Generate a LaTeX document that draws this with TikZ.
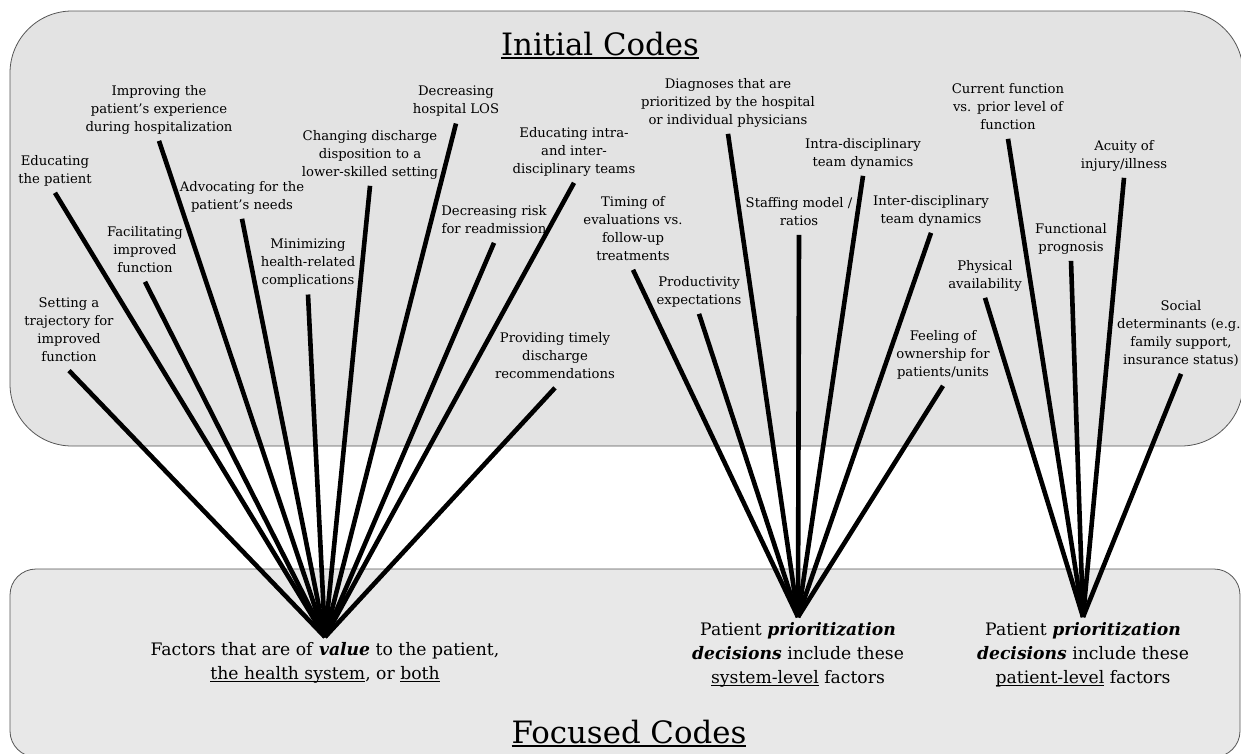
\documentclass[tikz,border=0pt]{standalone}
\usepackage{fontspec}
\setmainfont{DejaVu Serif}
\usetikzlibrary{positioning}

\definecolor{initfill}{HTML}{E3E3E3}
\definecolor{focusfill}{HTML}{E8E8E8}
\definecolor{panelline}{HTML}{555555}

\newcommand{\codefont}{\fontsize{13.2}{18}\selectfont}
\newcommand{\focusfont}{\fontsize{17.2}{24}\selectfont}
\newcommand{\titlefont}{\fontsize{30.8}{40}\selectfont}
\newsavebox{\ulbox}
\newcommand{\codeul}[1]{\sbox\ulbox{#1}\rlap{\rule[-2.5pt]{\wd\ulbox}{1pt}}\usebox\ulbox}
\newcommand{\titleul}[1]{\sbox\ulbox{#1}\rlap{\rule[-4pt]{\wd\ulbox}{2pt}}\usebox\ulbox}

\begin{document}
\begin{tikzpicture}[x=1pt, y=-1pt,
  panel/.style={draw=panelline, line width=0.8pt},
  code/.style={align=center, anchor=north, inner sep=4pt, font=\codefont,
    execute at begin node=\strut, execute at end node=\strut},
  focus/.style={align=center, inner sep=0pt, font=\focusfont,
    execute at begin node=\strut, execute at end node=\strut},
  spoke/.style={line width=4.6pt, black}
]
  \useasboundingbox (0,0) rectangle (1241,753);
  \clip (0,0) rectangle (1241,753);

  % Panels
  \draw[panel, fill=initfill, rounded corners=62pt] (10,11) rectangle (1243,446);
  \draw[panel, fill=focusfill, rounded corners=26pt] (10,569) rectangle (1240,757);

  \node[anchor=base, font=\titlefont] (initial) at (600,55) {\titleul{Initial Codes}};
  \node[anchor=base, font=\titlefont] (focused) at (629,743) {\titleul{Focused Codes}};

  % Meeting points
  \coordinate (apexA) at (325,637);
  \coordinate (apexB) at (798,617);
  \coordinate (apexC) at (1083,617);

  % Value codes
  \node[code] (edpat) at (55,151) {Educating\\the patient};
  \node[code] (improv) at (159,81) {Improving the\\patient’s experience\\during hospitalization};
  \node[code] (advoc) at (242,177) {Advocating for the\\patient’s needs};
  \node[code] (facil) at (145,222) {Facilitating\\improved\\function};
  \node[code] (minim) at (308,235) {Minimizing\\health-related\\complications};
  \node[code] (traject) at (69,293) {Setting a\\trajectory for\\improved\\function};
  \node[code] (dispo) at (370,126) {Changing discharge\\disposition to a\\lower-skilled setting};
  \node[code] (declos) at (456,82) {Decreasing\\hospital LOS};
  \node[code] (eduteam) at (574,123) {Educating intra-\\and inter-\\disciplinary teams};
  \node[code] (decrisk) at (494,201) {Decreasing risk\\for readmission};
  \node[code] (timely) at (555,328) {Providing timely\\discharge\\recommendations};

  % System-level codes
  \node[code] (timing) at (633,192) {Timing of\\evaluations vs.\\follow-up\\treatments};
  \node[code] (product) at (699,272) {Productivity\\expectations};
  \node[code] (diagn) at (728,74) {Diagnoses that are\\prioritized by the hospital\\or individual physicians};
  \node[code] (staff) at (799,193) {Staffing model /\\ratios};
  \node[code] (intra) at (863,134) {Intra-disciplinary\\team dynamics};
  \node[code] (inter) at (931,191) {Inter-disciplinary\\team dynamics};
  \node[code] (owner) at (943,326) {Feeling of\\ownership for\\patients/units};

  % Patient-level codes
  \node[code] (physic) at (985,256) {Physical\\availability};
  \node[code] (current) at (1008,79) {Current function\\vs. prior level of\\function};
  \node[code] (prognos) at (1071,219) {Functional\\prognosis};
  \node[code] (acuity) at (1124,136) {Acuity of\\injury/illness};
  \node[code] (social) at (1181,296) {Social\\determinants (e.g.,\\family support,\\insurance status)};

  % Focused codes
  \node[focus, below=5pt of apexA] (valuetext) {Factors that are of \textbf{\textit{value}} to the patient,\\\codeul{the health system}, or \codeul{both}};
  \node[focus, below=5pt of apexB] (systext) {Patient \textbf{\textit{prioritization}}\\\textbf{\textit{decisions}} include these\\\codeul{system-level} factors};
  \node[focus, below=5pt of apexC] (pattext) {Patient \textbf{\textit{prioritization}}\\\textbf{\textit{decisions}} include these\\\codeul{patient-level} factors};

  % Spokes
  \foreach \n in {edpat, improv, advoc, facil, minim, traject, dispo, declos, eduteam, decrisk, timely}
    \draw[spoke] (\n.south) -- (apexA);
  \foreach \n in {timing, product, diagn, staff, intra, inter, owner}
    \draw[spoke] (\n.south) -- (apexB);
  \foreach \n in {physic, current, prognos, acuity, social}
    \draw[spoke] (\n.south) -- (apexC);
\end{tikzpicture}
\end{document}
